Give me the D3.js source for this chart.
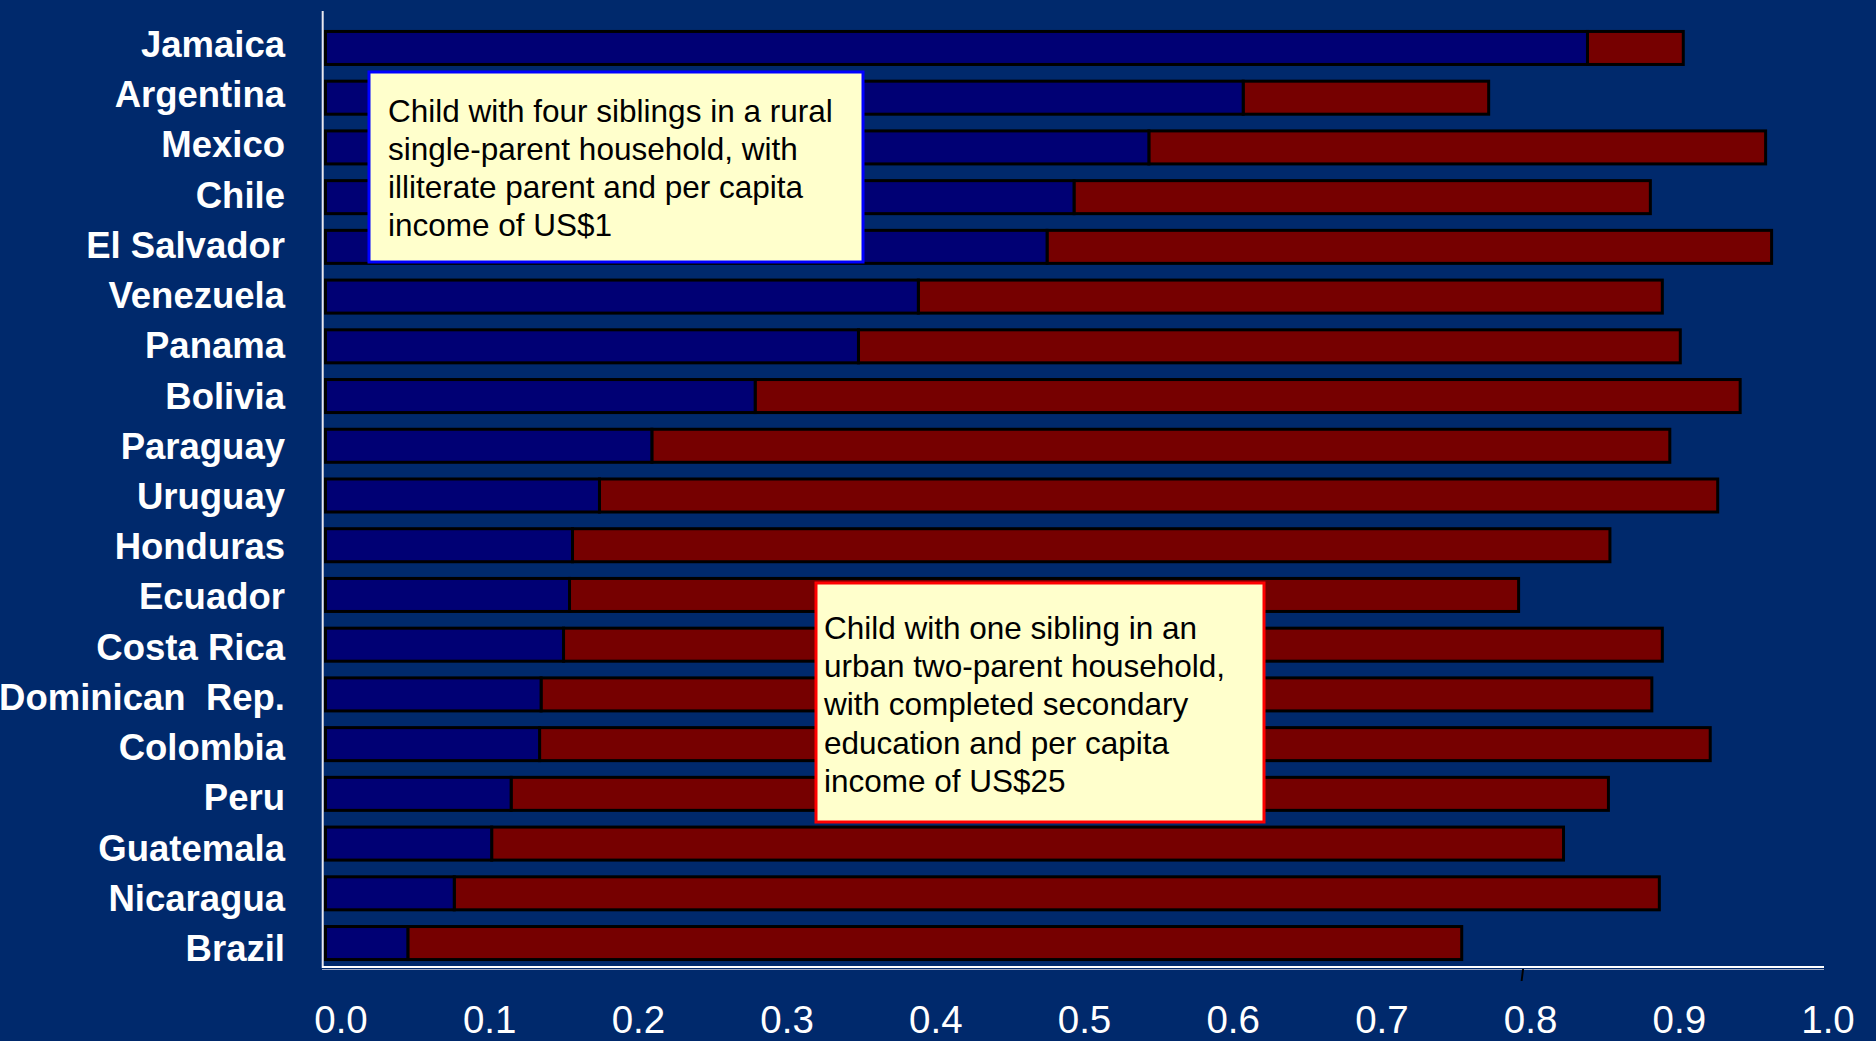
<!DOCTYPE html>
<html>
<head>
<meta charset="utf-8">
<script src="https://cdn.jsdelivr.net/npm/d3@7"></script>
<style>
  html, body { margin: 0; padding: 0; background: #00296c; }
  svg { display: block; }
  text { font-family: "Liberation Sans", Arial, Helvetica, sans-serif; }
</style>
</head>
<body>
<svg id="chart" width="1876" height="1041"></svg>
<script>
// ---- data ----
const countries = ["Jamaica", "Argentina", "Mexico", "Chile", "El Salvador", "Venezuela", "Panama",
  "Bolivia", "Paraguay", "Uruguay", "Honduras", "Ecuador", "Costa Rica", "Dominican  Rep.",
  "Colombia", "Peru", "Guatemala", "Nicaragua", "Brazil"];
// probability for child with four siblings, rural, single-parent, illiterate parent, US$1 (blue)
const disadvantaged = [0.843, 0.613, 0.550, 0.500, 0.482, 0.396, 0.356, 0.287, 0.218, 0.183,
  0.165, 0.163, 0.159, 0.144, 0.143, 0.124, 0.111, 0.086, 0.055];
// probability for child with one sibling, urban, two-parent, secondary education, US$25 (end of red)
const advantaged = [0.907, 0.777, 0.962, 0.885, 0.966, 0.893, 0.905, 0.945, 0.898, 0.930,
  0.858, 0.797, 0.893, 0.886, 0.925, 0.857, 0.827, 0.891, 0.759];
const tickValues = [0, 0.1, 0.2, 0.3, 0.4, 0.5, 0.6, 0.7, 0.8, 0.9, 1.0];
const markedTick = [0.8];
const note1 = ["Child with four siblings in a rural", "single-parent household, with",
  "illiterate parent and per capita", "income of US$1"];
const note2 = ["Child with one sibling in an", "urban two-parent household,",
  "with completed secondary", "education and per capita", "income of US$25"];

// ---- drawing ----
const svg = d3.select("#chart");
const W = 1876, H = 1041;
svg.append("rect").attr("width", W).attr("height", H).attr("fill", "#00296c");

const x = d3.scaleLinear().domain([0, 1]).range([325.5, 1822.5]);
const xLabel = d3.scaleLinear().domain([0, 1]).range([341, 1828]);
const y = d3.scaleBand().domain(countries).range([23.1, 967.9])
  .paddingInner(0.336).paddingOuter(0.168);
const yLabel = d3.scalePoint().domain(countries).range([57, 961]);

const rows = countries.map((c, i) => ({ c, a: disadvantaged[i], b: advantaged[i] }));

const bars = svg.append("g");
bars.selectAll("rect.red").data(rows).join("rect")
  .attr("class", "red")
  .attr("x", d => x(d.a)).attr("y", d => y(d.c))
  .attr("width", d => x(d.b) - x(d.a)).attr("height", y.bandwidth())
  .attr("fill", "#760000").attr("stroke", "#000").attr("stroke-width", 3);
bars.selectAll("rect.blue").data(rows).join("rect")
  .attr("class", "blue")
  .attr("x", x(0)).attr("y", d => y(d.c))
  .attr("width", d => x(d.a) - x(0)).attr("height", y.bandwidth())
  .attr("fill", "#000074").attr("stroke", "#000").attr("stroke-width", 3);

// axes lines
svg.append("line").attr("x1", 322.7).attr("x2", 322.7).attr("y1", 11).attr("y2", 968)
  .attr("stroke", "#e8e8f0").attr("stroke-width", 2);
svg.append("line").attr("x1", 322).attr("x2", 1824).attr("y1", 967).attr("y2", 967)
  .attr("stroke", "#ffffff").attr("stroke-width", 2);
svg.append("line").attr("x1", 322).attr("x2", 1824).attr("y1", 969.5).attr("y2", 969.5)
  .attr("stroke", "#9aa6c4").attr("stroke-width", 1);
svg.selectAll("line.mtick").data(markedTick).join("line").attr("class", "mtick")
  .attr("x1", d => x(d) - 1.5).attr("x2", d => x(d))
  .attr("y1", 981).attr("y2", 969)
  .attr("stroke", "#000").attr("stroke-width", 2);

// tick labels
const fmt = d3.format(".1f");
svg.selectAll("text.tick").data(tickValues).join("text").attr("class", "tick")
  .attr("x", d => xLabel(d)).attr("y", 1032.5)
  .attr("text-anchor", "middle").attr("fill", "#fff")
  .attr("font-size", 38.5).text(d => fmt(d));

// category labels
svg.selectAll("text.cat").data(countries).join("text").attr("class", "cat")
  .attr("x", 285).attr("y", d => yLabel(d))
  .attr("text-anchor", "end").attr("fill", "#fff")
  .attr("font-size", 36.5).attr("font-weight", "bold")
  .style("white-space", "pre").attr("xml:space", "preserve")
  .text(d => d);

// annotation boxes
function note(lines, bx, by, bw, bh, border, tx, ty0) {
  const g = svg.append("g");
  g.append("rect").attr("x", bx).attr("y", by).attr("width", bw).attr("height", bh)
    .attr("fill", "#ffffcc").attr("stroke", border).attr("stroke-width", 3);
  g.selectAll("text").data(lines).join("text")
    .attr("x", tx).attr("y", (d, i) => ty0 + i * 38.2)
    .attr("fill", "#000").attr("font-size", 31.5).text(d => d);
}
note(note1, 369, 72, 494, 190, "#0000ff", 388, 121.5);
note(note2, 816, 583, 448, 239, "#ff0000", 824, 639);
</script>
</body>
</html>
